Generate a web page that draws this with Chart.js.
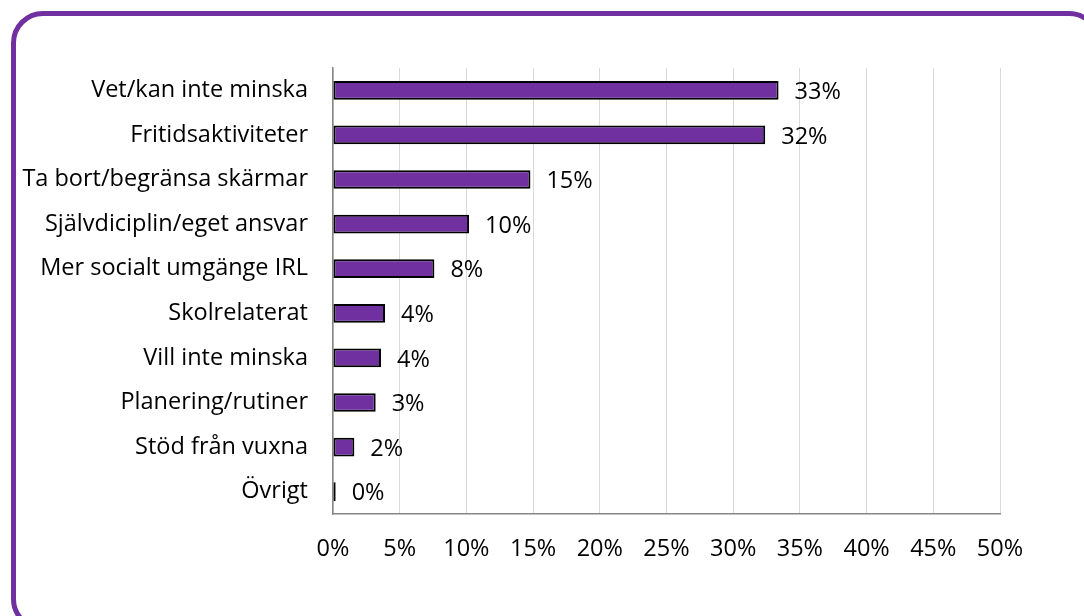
<!DOCTYPE html>
<html>
<head>
<meta charset="utf-8">
<script src="https://cdn.jsdelivr.net/npm/chart.js@4"></script>
<style>
    html, body { margin: 0; padding: 0; background: #fff; overflow: hidden; }
    #wrap { position: relative; width: 1084px; height: 616px; }
    #frame {
        position: absolute; left: 11px; top: 11px; width: 1090px; height: 620px;
        border: 5px solid #7030A0; border-radius: 32px; box-sizing: border-box;
    }
    canvas { position: absolute; left: 0; top: 0; }
</style>
</head>
<body>
<div id="wrap">
    <div id="frame"></div>
    <canvas id="myChart" width="1084" height="616"></canvas>
</div>
<script>
// categories top to bottom
var categories = [
    'Vet/kan inte minska',
    'Fritidsaktiviteter',
    'Ta bort/begränsa skärmar',
    'Självdiciplin/eget ansvar',
    'Mer socialt umgänge IRL',
    'Skolrelaterat',
    'Vill inte minska',
    'Planering/rutiner',
    'Stöd från vuxna',
    'Övrigt'
];
// share in percent
var values = [33.4, 32.4, 14.8, 10.2, 7.6, 3.9, 3.6, 3.2, 1.6, 0.2];
var tickLabels = ['0%', '5%', '10%', '15%', '20%', '25%', '30%', '35%', '40%', '45%', '50%'];

var FONT = '"Open Sans", sans-serif';
var SIZE = 23.5;

// draws "33%" etc to the right of each bar
var valueLabels = {
    id: 'valueLabels',
    afterDatasetsDraw: function(chart) {
        var ctx = chart.ctx;
        var meta = chart.getDatasetMeta(0);
        ctx.save();
        ctx.font = SIZE + 'px ' + FONT;
        ctx.fillStyle = '#000';
        ctx.textAlign = 'left';
        ctx.textBaseline = 'middle';
        meta.data.forEach(function(bar, i) {
            ctx.fillText(Math.round(values[i]) + '%', bar.x + 16, bar.y + 2);
        });
        ctx.restore();
    }
};

var ctx = document.getElementById('myChart').getContext('2d');
var myChart = new Chart(ctx, {
    type: 'bar',
    data: {
        labels: categories,
        datasets: [{
            data: values,
            backgroundColor: '#7030A0',
            borderColor: '#000',
            borderWidth: 2,
            borderSkipped: false,
            barPercentage: 0.42,
            categoryPercentage: 1
        }]
    },
    options: {
        indexAxis: 'y',
        responsive: false,
        animation: false,
        layout: {
            padding: { top: 68, right: 84, bottom: 0, left: 0 }
        },
        plugins: {
            legend: { display: false },
            tooltip: { enabled: false }
        },
        scales: {
            x: {
                min: 0,
                max: 50,
                ticks: {
                    stepSize: 5,
                    padding: 21,
                    color: '#000',
                    font: { family: FONT, size: SIZE },
                    callback: function(v, i) { return tickLabels[i]; }
                },
                grid: { color: '#d9d9d9', lineWidth: 1, drawTicks: false },
                border: { color: '#868686', width: 1.5 },
                afterFit: function(scale) { scale.height = 102; }
            },
            y: {
                ticks: {
                    padding: 25,
                    color: '#000',
                    font: { family: FONT, size: SIZE }
                },
                grid: { display: false, drawTicks: false },
                border: { color: '#868686', width: 1.5 },
                afterFit: function(scale) { scale.width = 333; }
            }
        }
    },
    plugins: [valueLabels]
});
</script>
</body>
</html>
